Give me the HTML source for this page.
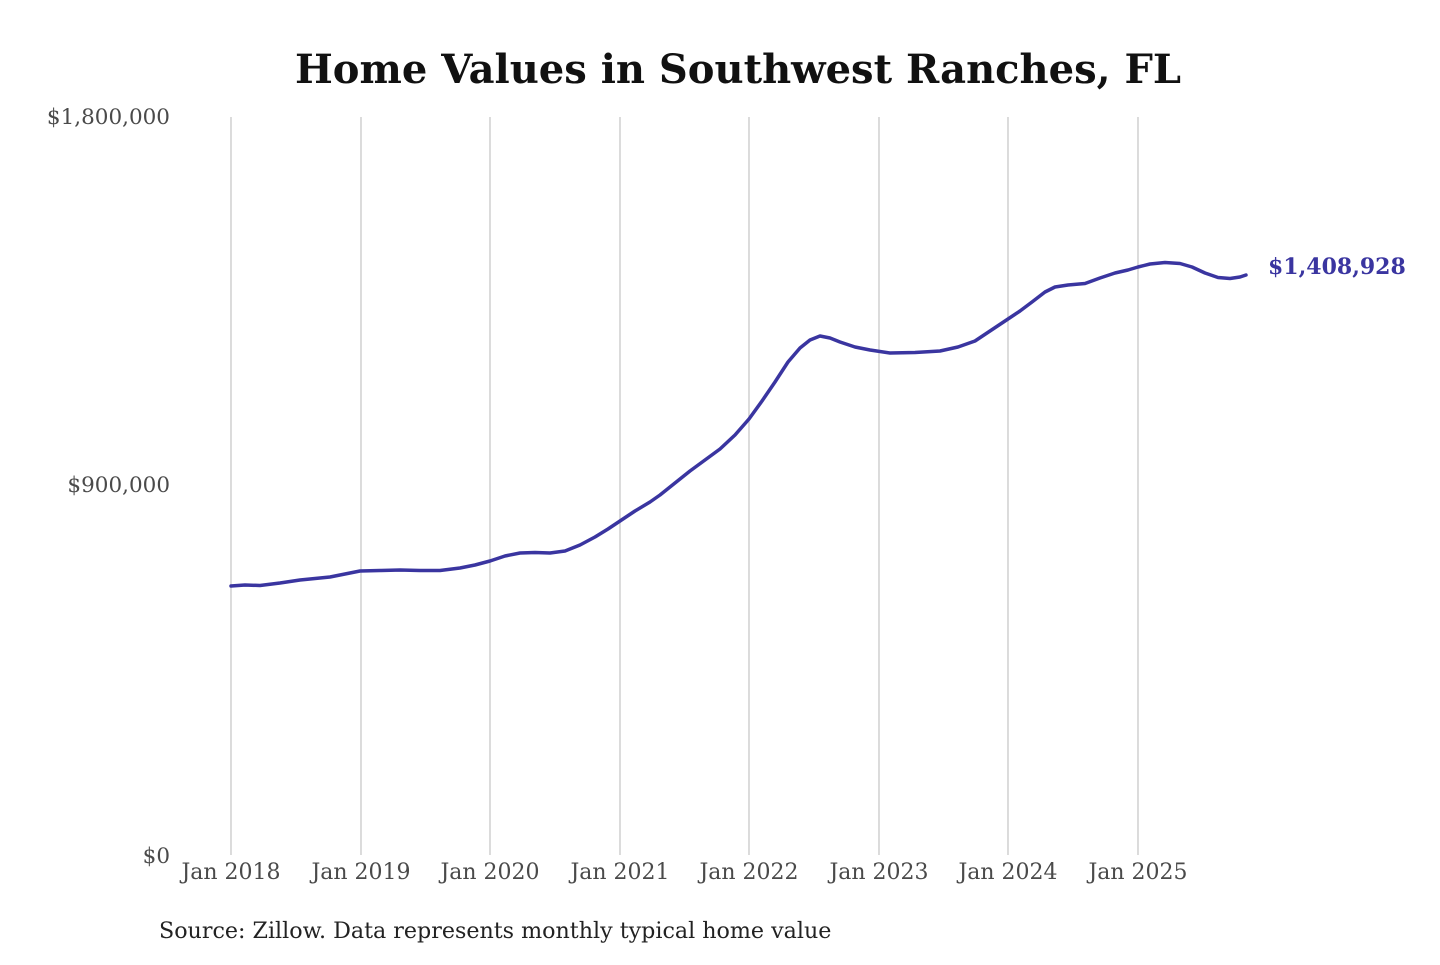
<!DOCTYPE html>
<html><head><meta charset="utf-8"><style>
html,body{margin:0;padding:0;background:#fff;}
body{width:1440px;height:960px;overflow:hidden;}
</style></head><body>
<svg width="1440" height="960" viewBox="0 0 1440 960" xmlns="http://www.w3.org/2000/svg">
<text x="738" y="83" text-anchor="middle" font-family="DejaVu Serif, serif" font-weight="bold" font-size="40" fill="#111" textLength="886" lengthAdjust="spacingAndGlyphs">Home Values in Southwest Ranches, FL</text>
<g stroke="#c8c8c8" stroke-width="1.3">
<line x1="231" y1="117" x2="231" y2="855"/>
<line x1="361" y1="117" x2="361" y2="855"/>
<line x1="490" y1="117" x2="490" y2="855"/>
<line x1="620" y1="117" x2="620" y2="855"/>
<line x1="749" y1="117" x2="749" y2="855"/>
<line x1="879" y1="117" x2="879" y2="855"/>
<line x1="1008" y1="117" x2="1008" y2="855"/>
<line x1="1138" y1="117" x2="1138" y2="855"/>
</g>
<g font-family="DejaVu Serif, serif" font-size="21.5" fill="#4a4a4a">
<text x="170" y="124" text-anchor="end">$1,800,000</text>
<text x="170" y="492" text-anchor="end">$900,000</text>
<text x="170" y="863" text-anchor="end">$0</text>
</g>
<g font-family="DejaVu Serif, serif" font-size="22" fill="#4a4a4a" text-anchor="middle">
<text x="231" y="879">Jan 2018</text>
<text x="361" y="879">Jan 2019</text>
<text x="490" y="879">Jan 2020</text>
<text x="620" y="879">Jan 2021</text>
<text x="749" y="879">Jan 2022</text>
<text x="879" y="879">Jan 2023</text>
<text x="1008" y="879">Jan 2024</text>
<text x="1138" y="879">Jan 2025</text>
</g>
<path fill="none" stroke="#3a35a0" stroke-width="3.5" stroke-linejoin="round" stroke-linecap="round"
d="M231,586 L245,585 L260,585.5 L280,583 L300,580 L330,577 L345,574 L360,571 L380,570.5 L400,570 L420,570.5 L440,570.5 L460,568 L475,565 L490,561 L505,556 L520,553 L535,552.5 L550,553 L565,551 L580,545 L595,537 L608,529 L620,521 L635,511 L650,502 L660,495 L670,487 L680,479 L690,471 L705,460 L720,449 L735,435 L749,419 L762,401 L775,382 L788,362 L800,348 L810,340 L820,336 L830,338 L840,342 L855,347 L870,350 L890,353 L915,352.5 L940,351 L958,347 L975,341 L990,331 L1008,319 L1020,311 L1032,302 L1045,292 L1055,287 L1068,285 L1085,283.5 L1100,278 L1115,273 L1128,270 L1138,267 L1150,264 L1165,262.5 L1180,263.5 L1192,267 L1205,273 L1218,277.5 L1230,278.5 L1240,277 L1246,275"/>
<text x="1268" y="274" font-family="DejaVu Serif, serif" font-weight="bold" font-size="22" fill="#3a35a0">$1,408,928</text>
<text x="159" y="938" font-family="DejaVu Serif, serif" font-size="22.2" fill="#222">Source: Zillow. Data represents monthly typical home value</text>
</svg>
</body></html>
